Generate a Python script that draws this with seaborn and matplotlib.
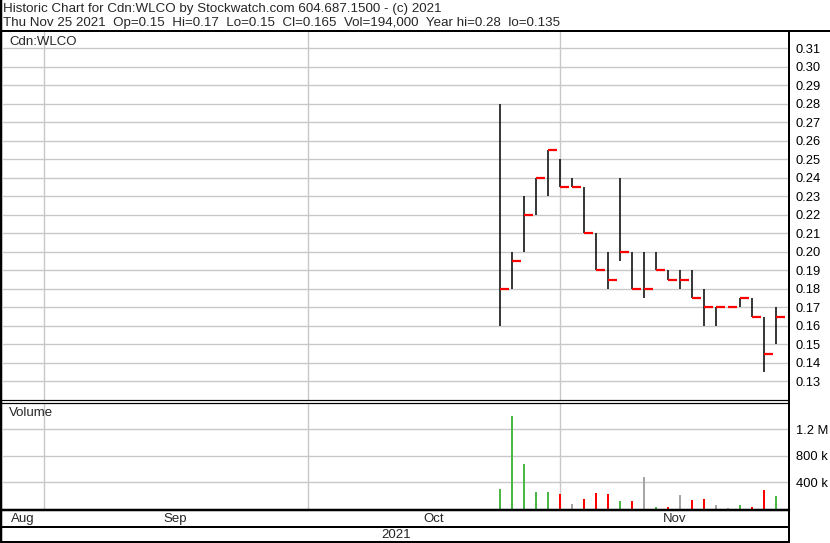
import numpy as np
import pandas as pd
import seaborn as sns
import matplotlib.pyplot as plt
from matplotlib.lines import Line2D

# 일별 시세 (Cdn:WLCO, 2021-10-25 ~ 2021-11-25)
dates = ['2021-10-25', '2021-10-26', '2021-10-27', '2021-10-28', '2021-10-29',
         '2021-11-01', '2021-11-02', '2021-11-03', '2021-11-04', '2021-11-05',
         '2021-11-08', '2021-11-09', '2021-11-10', '2021-11-11', '2021-11-12',
         '2021-11-15', '2021-11-16', '2021-11-17', '2021-11-18', '2021-11-19',
         '2021-11-22', '2021-11-23', '2021-11-24', '2021-11-25']
highs = [0.28, 0.20, 0.23, 0.24, 0.255, 0.25, 0.24, 0.235, 0.21, 0.20, 0.24, 0.20,
         0.20, 0.20, 0.19, 0.19, 0.19, 0.18, 0.17, 0.17, 0.175, 0.175, 0.165, 0.17]
lows = [0.16, 0.18, 0.20, 0.22, 0.23, 0.235, 0.235, 0.21, 0.19, 0.18, 0.195, 0.18,
        0.175, 0.19, 0.185, 0.18, 0.175, 0.16, 0.16, 0.17, 0.17, 0.165, 0.135, 0.15]
closes = [0.18, 0.195, 0.22, 0.24, 0.255, 0.235, 0.235, 0.21, 0.19, 0.185, 0.20, 0.18,
          0.18, 0.19, 0.185, 0.185, 0.175, 0.17, 0.17, 0.17, 0.175, 0.165, 0.145, 0.165]
volumes = [301000, 1400000, 677000, 256000, 256000, 226000, 75000, 150000, 241000,
           226000, 120000, 120000, 481000, 30000, 30000, 211000, 135000, 150000,
           60000, 15000, 60000, 30000, 286000, 194000]

month_starts = ['2021-09-01', '2021-10-01', '2021-11-01']
month_names = ['Aug', 'Sep', 'Oct', 'Nov']
price_ticks = [0.13, 0.14, 0.15, 0.16, 0.17, 0.18, 0.19, 0.20, 0.21, 0.22,
               0.23, 0.24, 0.25, 0.26, 0.27, 0.28, 0.29, 0.30, 0.31]
vol_ticks = [400000, 800000, 1200000]
vol_tick_labels = ['400 k', '800 k', '1.2 M']

header1 = 'Historic Chart for Cdn:WLCO by Stockwatch.com 604.687.1500 - (c) 2021'
header2 = 'Thu Nov 25 2021  Op=0.15  Hi=0.17  Lo=0.15  Cl=0.165  Vol=194,000  Year hi=0.28  lo=0.135'

sns.set_style('white')
plt.rcParams['font.family'] = ['Liberation Sans', 'DejaVu Sans']

# 영업일 기준 x좌표
origin = '2021-10-25'
df = pd.DataFrame({'date': dates, 'high': highs, 'low': lows, 'close': closes, 'vol': volumes})
df['x'] = np.busday_count(origin, df['date'].tolist())
prev = df['close'].shift(1)
df['dir'] = np.where(prev.isna() | (df['close'] > prev), 'up',
                     np.where(df['close'] < prev, 'down', 'flat'))
grid_x = np.busday_count(origin, month_starts)

W, H = 830, 543
XMIN, XMAX = -41.38, 24.12
fig = plt.figure(figsize=(W / 100, H / 100), dpi=100)


def box(top, bottom):
    return [3 / W, 1 - bottom / H, 786 / W, (bottom - top) / H]


ax_p = fig.add_axes(box(31, 400))
ax_v = fig.add_axes(box(402.5, 509))

grid_c = '#c8c8c8'
for ax in (ax_p, ax_v):
    for s in ax.spines.values():
        s.set_visible(False)
    for gx in grid_x:
        ax.axvline(gx, color=grid_c, lw=1.0, zorder=0)
    ax.set_xlim(XMIN, XMAX)
    ax.set_xticks([])
    ax.yaxis.tick_right()
    ax.tick_params(axis='y', length=0, pad=5, labelsize=9.3, labelcolor='black')

# 가격 패널
for yv in price_ticks:
    ax_p.axhline(yv, color=grid_c, lw=1.0, zorder=0)
ax_p.vlines(df['x'], df['low'], df['high'], color='black', lw=1.1, zorder=2)
ax_p.hlines(df['close'], df['x'], df['x'] + 0.75, color='#ff0000', lw=1.6, zorder=3)
ax_p.set_ylim(0.1199, 0.3194)
ax_p.set_yticks(price_ticks)
ax_p.set_yticklabels(['%.2f' % v for v in price_ticks])
ax_p.set_xlabel('')
ax_p.set_ylabel('')

# 거래량 패널
for yv in vol_ticks:
    ax_v.axhline(yv, color=grid_c, lw=1.0, zorder=0)
sns.barplot(data=df, x='x', y='vol', hue='dir', native_scale=True, dodge=False,
            palette={'up': '#4cb848', 'down': '#ff0000', 'flat': '#a6a6a6'},
            width=0.17, saturation=1, linewidth=0, errorbar=None, legend=False, ax=ax_v)
ax_v.set_xlim(XMIN, XMAX)
ax_v.set_xticks([])
ax_v.set_ylim(0, 1.6e6)
ax_v.set_yticks(vol_ticks)
ax_v.set_yticklabels(vol_tick_labels)
ax_v.set_xlabel('')
ax_v.set_ylabel('')

# 월 라벨 (보이는 구간의 가운데)
edges = [XMIN] + list(grid_x) + [XMAX]
px_per_unit = 786 / (XMAX - XMIN)
for name, a, b in zip(month_names, edges[:-1], edges[1:]):
    mid = 3 + ((a + b) / 2 - XMIN) * px_per_unit
    fig.text(mid / W, 1 - 519 / H, name, ha='center', va='center', fontsize=9.5)
fig.text(396 / W, 1 - 534.5 / H, '2021', ha='center', va='center', fontsize=9.5)

# 텍스트
fig.text(3 / W, 1 - 9 / H, header1, ha='left', va='center', fontsize=9.6)
fig.text(3 / W, 1 - 23 / H, header2, ha='left', va='center', fontsize=9.6)
fig.text(9 / W, 1 - 42 / H, 'Cdn:WLCO', ha='left', va='center', fontsize=9.5)
fig.text(9 / W, 1 - 413 / H, 'Volume', ha='left', va='center', fontsize=9.5)


# 테두리 선
def hline(y, x0, x1, lw):
    fig.add_artist(Line2D([x0 / W, x1 / W], [1 - y / H, 1 - y / H], color='black', lw=lw * 0.72))


def vline(x, y0, y1, lw):
    fig.add_artist(Line2D([x / W, x / W], [1 - y0 / H, 1 - y1 / H], color='black', lw=lw * 0.72))


hline(31, 0, W, 2)
hline(400, 0, 789, 1.2)
hline(402.5, 0, 789, 1.2)
hline(509.5, 0, 789, 2.5)
hline(527, 0, 789, 2)
hline(541.5, 0, 789, 2)
vline(1, 0, H, 2.5)
vline(789, 31, 542, 2)

fig.savefig('out.png', dpi=100)
